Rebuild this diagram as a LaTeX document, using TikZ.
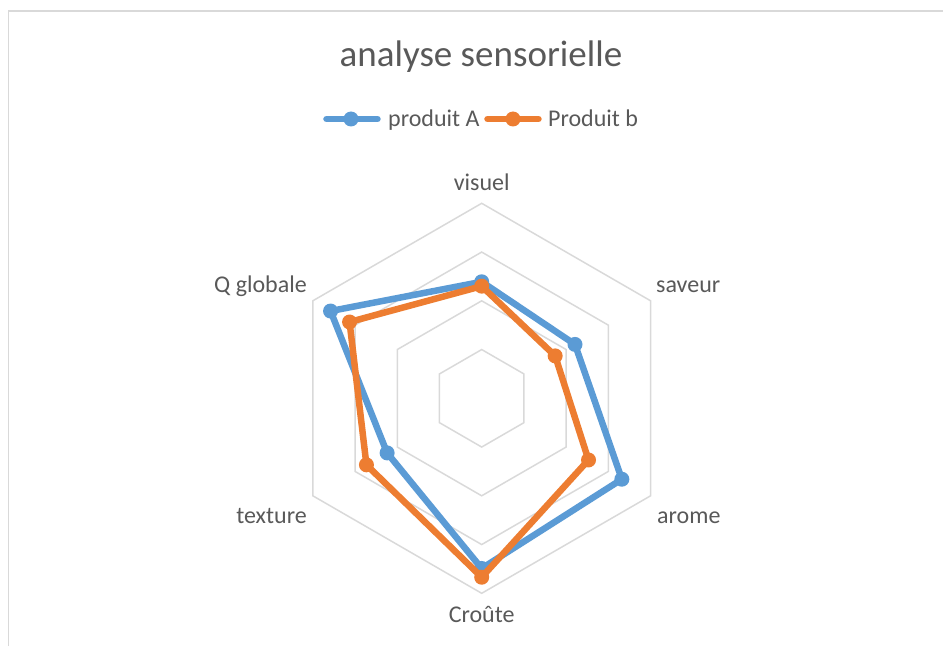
\documentclass[tikz,border=0pt]{standalone}
\usepackage{fontspec}
\setmainfont{Carlito}
\usepackage{tikz}
\definecolor{serieA}{RGB}{91,155,213}
\definecolor{serieB}{RGB}{237,125,49}
\definecolor{txtgrey}{RGB}{89,89,89}
\definecolor{gridgrey}{RGB}{217,217,217}
\tikzset{
	gridline/.style={draw=gridgrey, line width=1.5pt},
	serie/.style={draw=#1, line width=6.5pt, line join=round, line cap=round},
	marqueur/.style={circle, fill=#1, inner sep=0pt, minimum size=15pt},
	axlabel/.style={text=txtgrey, font=\fontsize{24}{28}\selectfont, inner sep=0pt},
}
\newcommand{\rr}{48.75}

\begin{document}
\begin{tikzpicture}[x=1pt, y=1pt]
\useasboundingbox (-481.7,-247.7) rectangle (461.3,398.3);
\draw[gridline] (-473.2,-247.7) -- (-473.2,387.3) -- (461.3,387.3);

\node[axlabel, font=\fontsize{37}{42}\selectfont, anchor=base] (titre) at (-0.7,331.3) {analyse sensorielle};

\foreach \r in {1,...,4}
	\draw[gridline] (90:\r*\rr) -- (30:\r*\rr) -- (-30:\r*\rr) -- (-90:\r*\rr) -- (-150:\r*\rr) -- (150:\r*\rr) -- cycle;

\foreach \a/\v [count=\i] in {90/2.39, 30/2.21, -30/3.32, -90/3.49, -150/2.24, 150/3.58}
	\coordinate (a\i) at (\a:\v*\rr);
\foreach \a/\v [count=\i] in {90/2.30, 30/1.74, -30/2.53, -90/3.67, -150/2.73, 150/3.13}
	\coordinate (b\i) at (\a:\v*\rr);

\draw[serie=serieA] (a1) -- (a2) -- (a3) -- (a4) -- (a5) -- (a6) -- cycle;
\foreach \i in {1,...,6}
	\node[marqueur=serieA] (pa\i) at (a\i) {};
\draw[serie=serieB] (b1) -- (b2) -- (b3) -- (b4) -- (b5) -- (b6) -- cycle;
\foreach \i in {1,...,6}
	\node[marqueur=serieB] (pb\i) at (b\i) {};

\node[axlabel, anchor=base] (visuel) at (0,207.3) {visuel};
\node[axlabel, anchor=base west] (saveur) at (174.3,106.3) {saveur};
\node[axlabel, anchor=base west] (arome) at (175.3,-124.7) {arome};
\node[axlabel, anchor=base] (croute) at (0,-223.7) {Croûte};
\node[axlabel, anchor=base east] (texture) at (-174.7,-124.7) {texture};
\node[axlabel, anchor=base east] (qglobale) at (-174.7,106.3) {Q globale};

\coordinate (legA1) at (-155.2,279.3);
\coordinate (legA2) at (-104.2,279.3);
\coordinate (legB1) at (5.8,279.3);
\coordinate (legB2) at (56.8,279.3);
\draw[serie=serieA] (legA1) -- (legA2);
\node[marqueur=serieA] (mA) at (-130.7,279.3) {};
\node[axlabel, anchor=base west] (nomA) at (-93.7,271.3) {produit A};
\draw[serie=serieB] (legB1) -- (legB2);
\node[marqueur=serieB] (mB) at (31.3,279.3) {};
\node[axlabel, anchor=base west] (nomB) at (66.3,271.3) {Produit b};
\end{tikzpicture}
\end{document}
